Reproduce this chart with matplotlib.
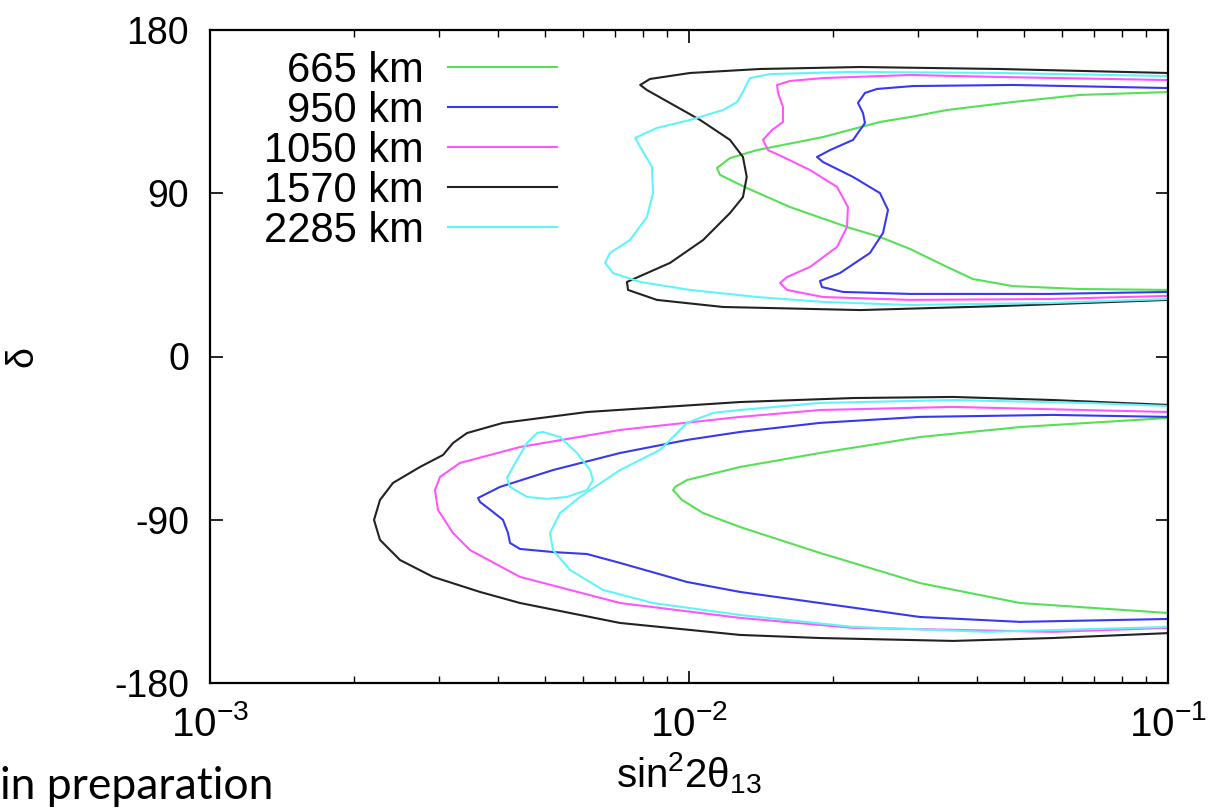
import matplotlib
matplotlib.use("Agg")
import matplotlib.pyplot as plt
from matplotlib.ticker import LogLocator, FixedLocator

plt.rcParams['font.family'] = ['Liberation Sans', 'DejaVu Sans']
plt.rcParams['mathtext.fontset'] = 'custom'
plt.rcParams['mathtext.rm'] = 'Liberation Sans'
plt.rcParams['mathtext.it'] = 'Liberation Sans'
plt.rcParams['axes.unicode_minus'] = False

# sin^2(2 theta13) vs delta contours
labels = ['665 km', '950 km', '1050 km', '1570 km', '2285 km']
colors = ['#55e055', '#3838f0', '#ff55ff', '#222222', '#60f4fa']

# 665 km
x_665_up = [0.1, 0.0655, 0.04747, 0.03456, 0.02893, 0.02504, 0.01905, 0.01387, 0.01218, 0.01144,
            0.01161, 0.0132, 0.01625, 0.02137, 0.02504, 0.02893, 0.03456, 0.03916, 0.04747, 0.0655, 0.1]
d_665_up = [145.8, 144.2, 140.3, 135.9, 132.0, 129.3, 121.0, 113.8, 109.4, 103.9,
            100.1, 92.9, 82.4, 71.4, 65.9, 59.3, 49.4, 42.7, 38.8, 37.2, 36.7]
x_665_lo = [0.1, 0.04909, 0.03035, 0.01877, 0.01278, 0.009904, 0.009351, 0.009261, 0.00967, 0.0107,
            0.01278, 0.01877, 0.03035, 0.04909, 0.1]
d_665_lo = [-33.9, -38.9, -44.4, -53.2, -60.9, -68.1, -71.9, -73.6, -79.1, -86.3,
            -94.0, -108.3, -124.9, -135.9, -141.4]

# 950 km
x_950_up = [0.1, 0.04747, 0.02934, 0.02469, 0.0233, 0.02253, 0.02308, 0.0233, 0.022, 0.0197, 0.0185,
            0.01905, 0.022, 0.02504, 0.02603, 0.02541, 0.02387, 0.02066, 0.01877, 0.01895, 0.02096,
            0.02893, 0.0567, 0.1]
d_950_up = [148.0, 149.7, 149.1, 147.5, 145.3, 139.8, 134.2, 128.7, 119.4, 113.8, 110.0,
            107.2, 99.0, 90.1, 80.8, 68.1, 57.1, 46.0, 41.6, 38.3, 35.6,
            34.5, 34.5, 35.6]
x_950_lo = [0.1, 0.05754, 0.03035, 0.01877, 0.01278, 0.009904, 0.007178, 0.005201, 0.004031, 0.003627,
            0.003662, 0.003898, 0.00409, 0.004189, 0.00423, 0.004438, 0.005201, 0.006125, 0.007178,
            0.009904, 0.01278, 0.01877, 0.03035, 0.04909, 0.1]
d_950_lo = [-33.3, -32.2, -33.3, -36.6, -41.6, -46.0, -53.2, -62.6, -71.9, -78.0,
            -80.2, -85.7, -90.1, -97.3, -102.8, -106.1, -107.8, -108.9, -113.8,
            -124.3, -129.8, -135.9, -143.6, -146.3, -144.7]

# 1050 km
x_1050_up = [0.1, 0.0446, 0.02893, 0.01905, 0.01625, 0.01527, 0.01534, 0.01571, 0.01571, 0.01491,
             0.01427, 0.01462, 0.01571, 0.01789, 0.02037, 0.02147, 0.02137, 0.02037, 0.01789,
             0.01602, 0.01549, 0.01602, 0.01905, 0.02893, 0.0567, 0.1]
d_1050_up = [152.4, 154.1, 155.2, 153.5, 151.9, 149.7, 145.3, 137.6, 129.3, 124.9,
             119.4, 113.8, 110.0, 102.8, 93.5, 82.4, 71.4, 60.4, 49.4,
             43.8, 40.5, 36.7, 32.8, 31.2, 31.7, 33.4]
x_1050_lo = [0.1, 0.03557, 0.01877, 0.01278, 0.007178, 0.004438, 0.003325, 0.003021, 0.002949,
             0.002992, 0.003216, 0.003489, 0.004438, 0.007178, 0.01278, 0.022, 0.05754, 0.1]
d_1050_lo = [-30.6, -27.8, -29.5, -33.3, -40.5, -49.9, -58.7, -66.4, -73.6,
             -84.6, -97.3, -106.7, -121.5, -135.9, -144.1, -149.6, -151.8, -149.6]

# 1570 km
x_1570_up = [0.1, 0.0446, 0.0228, 0.01406, 0.01005, 0.00829, 0.00791, 0.00817, 0.01055, 0.01218,
             0.01296, 0.0132, 0.01296, 0.01218, 0.0107, 0.00913, 0.00742, 0.00746, 0.00857, 0.01178,
             0.0228, 0.0446, 0.1]
d_1570_up = [156.3, 158.5, 159.6, 158.5, 156.3, 153.0, 149.7, 146.9, 130.4, 119.4,
             110.0, 99.0, 87.9, 79.1, 64.2, 51.6, 41.1, 36.7, 31.2, 27.3,
             25.6, 27.8, 31.2]
x_1570_lo = [0.1, 0.05754, 0.03557, 0.022, 0.01278, 0.006125, 0.00409, 0.00344, 0.003216, 0.003065,
             0.002744, 0.00241, 0.002264, 0.0022, 0.002264, 0.002493, 0.002922, 0.003662, 0.004438,
             0.007178, 0.01278, 0.01877, 0.03557, 0.05754, 0.1]
d_1570_lo = [-26.7, -24.0, -22.3, -22.9, -25.1, -30.6, -36.6, -42.2, -47.7, -54.3,
             -60.9, -69.7, -79.1, -90.1, -101.1, -112.2, -121.5, -129.8, -135.9,
             -146.9, -153.5, -155.2, -156.8, -155.2, -152.5]

# 2285 km
x_2285_up = [0.1, 0.0446, 0.02168, 0.01476, 0.01341, 0.0132, 0.01296, 0.0126, 0.01178, 0.01005,
             0.00857, 0.00772, 0.00791, 0.00837, 0.00841, 0.00817, 0.00753, 0.00684, 0.00668,
             0.00694, 0.00791, 0.01005, 0.01387, 0.01905, 0.02893, 0.0567, 0.1]
d_2285_up = [154.6, 156.3, 156.9, 155.7, 153.5, 150.2, 145.8, 140.3, 135.9, 130.4,
             126.0, 120.5, 115.5, 104.5, 90.1, 76.9, 64.2, 57.1, 51.6,
             46.0, 41.1, 36.7, 32.8, 30.1, 28.4, 29.5, 31.7]
x_2285_lo = [0.1, 0.06774, 0.03557, 0.01877, 0.01278, 0.01122, 0.009904, 0.009261, 0.0087, 0.007178,
             0.005922, 0.00538, 0.005127, 0.005201, 0.005645, 0.006615, 0.00841, 0.01278, 0.022,
             0.04189, 0.1]
d_2285_lo = [-27.3, -25.6, -24.0, -25.6, -29.5, -31.1, -36.6, -44.4, -51.5, -62.6,
             -77.4, -86.3, -97.3, -106.7, -117.7, -128.7, -135.9, -142.5, -149.1,
             -151.8, -149.1]
# small closed island of the 2285 km contour
x_2285_isl = [0.004956, 0.00538, 0.005838, 0.006214, 0.006304, 0.006125, 0.005564, 0.005053,
              0.00459, 0.00423, 0.004169, 0.004374, 0.00459, 0.004816, 0.004956]
d_2285_isl = [-41.6, -44.4, -53.2, -62.6, -68.1, -73.6, -77.4, -78.5,
              -77.4, -71.9, -66.9, -57.0, -47.7, -42.2, -41.6]

curves = [
    [(x_665_up, d_665_up), (x_665_lo, d_665_lo)],
    [(x_950_up, d_950_up), (x_950_lo, d_950_lo)],
    [(x_1050_up, d_1050_up), (x_1050_lo, d_1050_lo)],
    [(x_1570_up, d_1570_up), (x_1570_lo, d_1570_lo)],
    [(x_2285_up, d_2285_up), (x_2285_lo, d_2285_lo), (x_2285_isl, d_2285_isl)],
]

fig = plt.figure(figsize=(12.22, 8.10), dpi=100)
ax = fig.add_axes([210 / 1222, 1 - 683 / 810, 958 / 1222, 653 / 810])

for parts, lab, col in zip(curves, labels, colors):
    for i, (xs, ds) in enumerate(parts):
        ax.plot(xs, ds, color=col, lw=1.5, label=lab if i == 0 else None,
                solid_joinstyle='round')

ax.set_xscale('log')
ax.set_xlim(1e-3, 1e-1)
ax.set_ylim(-180, 180)
ax.yaxis.set_major_locator(FixedLocator([-180, -90, 0, 90, 180]))
ax.xaxis.set_major_locator(LogLocator(base=10))
ax.xaxis.set_minor_locator(LogLocator(base=10, subs=range(2, 10)))
ax.tick_params(which='both', direction='in', top=True, right=True, labelsize=27)
ax.tick_params(which='major', length=9, width=1.2, pad=15)
ax.tick_params(axis='x', which='major', pad=16, labelsize=29)
ax.tick_params(which='minor', length=5, width=1.0)
for sp in ax.spines.values():
    sp.set_linewidth(1.6)

ax.set_xlabel(r'$\mathregular{sin^22\theta_{13}}$', fontsize=29)
ax.xaxis.set_label_coords(0.5, -0.103)
ax.set_ylabel('δ', fontsize=27)
ax.yaxis.set_label_coords(-0.177, 0.5)

ax.legend(loc='upper right', bbox_to_anchor=(0.362, 0.968), frameon=False, markerfirst=False,
          fontsize=30, handlelength=2.6, handletextpad=0.6, labelspacing=0.0, borderpad=0,
          borderaxespad=0)

fig.text(0.0, 0.004, 'in preparation', fontsize=32, family='Lato', ha='left', va='bottom')

fig.savefig('out.png', dpi=100)
